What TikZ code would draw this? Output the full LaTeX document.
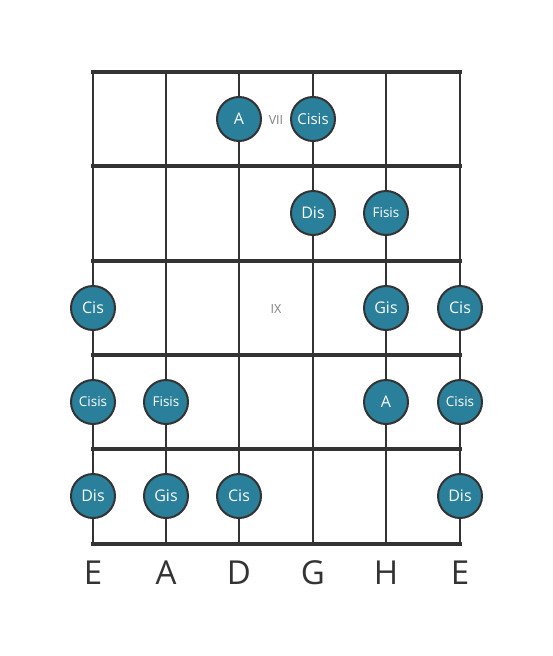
\documentclass[tikz,border=0pt]{standalone}
\usepackage{fontspec}
\setmainfont{Open Sans}
\definecolor{ink}{HTML}{333333}
\definecolor{dot}{HTML}{2A7F9B}
\definecolor{fretlab}{HTML}{808080}
\begin{document}
\begin{tikzpicture}[x=1pt,y=-1pt,
  fretline/.style={ink,line width=4.5pt},
  stringline/.style={ink,line width=2.5pt},
  note/.style={circle,fill=dot,draw=ink,line width=2pt,minimum size=44pt,inner sep=0pt,text=white,font=\fontsize{16}{16}\selectfont},
  smallnote/.style={note,font=\fontsize{13.5}{13.5}\selectfont},
  strlab/.style={ink,font=\fontsize{33}{33}\selectfont},
  frlab/.style={fretlab,font=\fontsize{12.5}{12.5}\selectfont}]
\useasboundingbox (0,0) rectangle (553,656);
% strings
\foreach \x [count=\i] in {93,166,239,313,386,460}{
  \coordinate (t\i) at (\x,72);
  \coordinate (b\i) at (\x,544);
  \draw[stringline] (t\i) -- (b\i);
}
% frets
\foreach \y [count=\j] in {72,166,261,355,449,544}{
  \coordinate (l\j) at (93,\y);
  \coordinate (r\j) at (460,\y);
  \draw[fretline,line cap=rect] (l\j) -- (r\j);
}
% fret labels
\node[frlab] (vii) at (276,120) {VII};
\node[frlab] (ix) at (276,309) {IX};
% notes
\node[note] (n1) at (239,119) {A};
\node[smallnote,font=\fontsize{15}{15}\selectfont] (n2) at (313,119) {Cisis};
\node[note] (n3) at (313,213) {Dis};
\node[smallnote] (n4) at (386,213) {Fisis};
\node[note] (n5) at (93,308) {Cis};
\node[note] (n6) at (386,308) {Gis};
\node[note] (n7) at (460,308) {Cis};
\node[smallnote] (n8) at (93,402) {Cisis};
\node[smallnote] (n9) at (166,402) {Fisis};
\node[note] (n10) at (386,402) {A};
\node[smallnote] (n11) at (460,402) {Cisis};
\node[note] (n12) at (93,496) {Dis};
\node[note] (n13) at (166,496) {Gis};
\node[note] (n14) at (239,496) {Cis};
\node[note] (n15) at (460,496) {Dis};
% string names
\foreach \x/\s [count=\k] in {93/E,166/A,239/D,313/G,386/H,460/E}{
  \node[strlab] (s\k) at (\x,573) {\s};
}
\end{tikzpicture}
\end{document}
